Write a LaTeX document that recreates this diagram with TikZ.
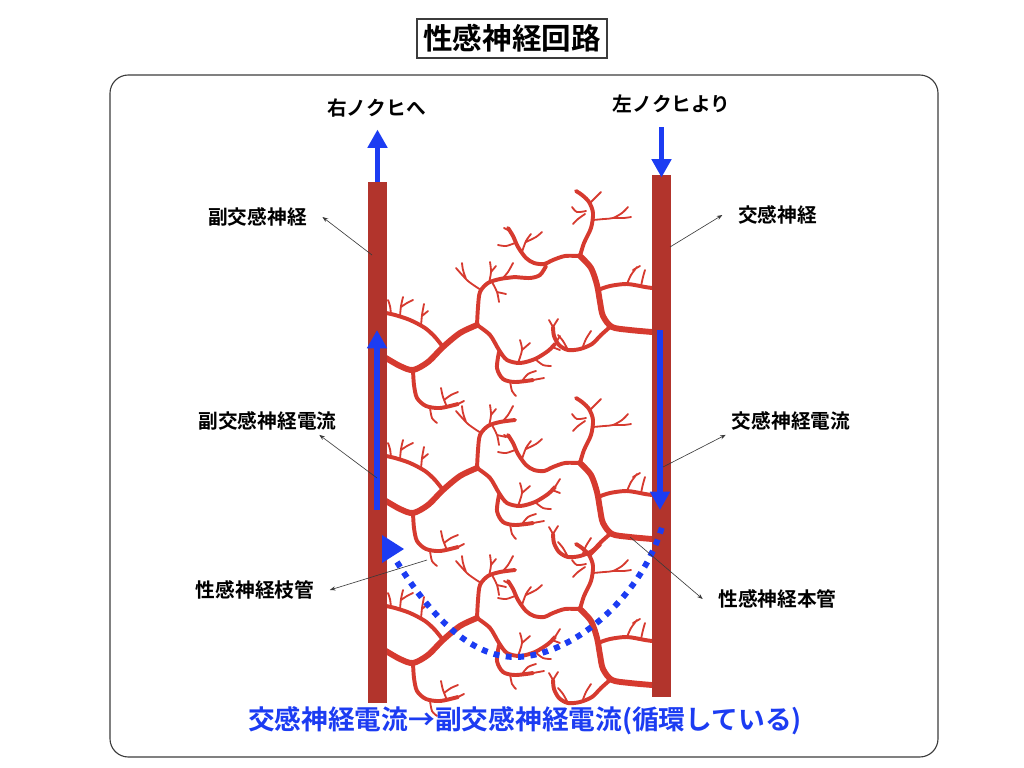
\documentclass[tikz,border=0pt]{standalone}
\usepackage{fontspec}
\usepackage{tikz}
\usetikzlibrary{arrows.meta, positioning, calc}
\newfontfamily\jpfont{Noto Sans CJK JP}[BoldFont={Noto Sans CJK JP Bold}]
\definecolor{nervebar}{HTML}{B2342C}
\definecolor{vesselred}{HTML}{D63A2F}
\definecolor{flowblue}{HTML}{1C3CF2}
\definecolor{leadergray}{HTML}{3A3A3A}
\definecolor{framegray}{HTML}{3C3C3C}

\tikzset{
  vessel/.style={draw=vesselred, line width=4.2pt, line cap=round, line join=round},
  subvessel/.style={vessel, line width=2.8pt},
  twig/.style={vessel, line width=1.3pt},
  nervebox/.style={fill=nervebar, minimum width=0.475cm, inner sep=0pt},
  flowarrow/.style={draw=flowblue, line width=3.6pt, -{Triangle[length=13pt, width=13.5pt]}},
  leader/.style={draw=leadergray, line width=0.45pt, -{Stealth[length=4pt, width=3pt]}},
  callout/.style={font=\jpfont\bfseries\fontsize{14}{14}\selectfont, inner xsep=11pt, inner ysep=3pt},
}

\begin{document}
\begin{tikzpicture}[x=0.025cm, y=-0.025cm]
  \useasboundingbox (0,0) rectangle (1024,768);

  % Title and frame
  \node[draw=framegray, line width=0.8pt, minimum width=4.75cm, minimum height=0.975cm,
        font=\jpfont\bfseries\fontsize{21}{21}\selectfont] (title) at (512,38.5) {性感神経回路};
  \draw[framegray, line width=0.8pt, rounded corners=13pt] (110,75) rectangle (938,757);

  % Branch vessels from the left nerve
  \foreach \dy in {0,143,293} {
    \begin{scope}[shift={(0,\dy)}]
      \draw[vessel] plot[smooth] coordinates {(386,358) (400,366) (413,370) (428,362) (443,347) (460,333) (477,325)};
      \draw[subvessel] plot[smooth] coordinates {(477,325) (490,335) (499,350) (507,360) (520,363) (535,359) (548,351) (555,344)}
                       plot[smooth] coordinates {(477,325) (478,307) (480,292) (488,283) (500,279) (515,277)}
                       plot[smooth] coordinates {(443,347) (435,337) (425,328) (410,320) (395,315) (386,313)}
                       plot[smooth] coordinates {(413,370) (414,385) (417,398) (426,406) (440,408) (458,404)}
                       plot[smooth] coordinates {(499,352) (497,368) (503,379) (515,382) (533,380)};
      \draw[twig] plot[smooth] coordinates {(400,316) (401,306) (403,297)}
                  plot[smooth] coordinates {(401,307) (407,303) (413,300)}
                  plot[smooth] coordinates {(391,314) (390,306) (388,300)}
                  plot[smooth] coordinates {(421,326) (422,315) (424,304)}
                  plot[smooth] coordinates {(422,316) (428,311)}
                  plot[smooth] coordinates {(481,290) (468,281) (456,268)}
                  plot[smooth] coordinates {(466,279) (463,270) (462,263)}
                  plot[smooth] coordinates {(489,283) (491,272) (490,262)}
                  plot[smooth] coordinates {(491,272) (496,266)}
                  plot[smooth] coordinates {(502,279) (508,272) (513,263)}
                  plot[smooth] coordinates {(492,282) (497,292) (499,302)}
                  plot[smooth] coordinates {(497,292) (506,294)}
                  plot[smooth] coordinates {(518,363) (522,350) (520,340)}
                  plot[smooth] coordinates {(522,350) (530,343)}
                  plot[smooth] coordinates {(535,359) (543,365) (551,366)}
                  plot[smooth] coordinates {(555,344) (560,336)}
                  plot[smooth] coordinates {(552,347) (560,350)}
                  plot[smooth] coordinates {(510,381) (512,391) (516,396)}
                  plot[smooth] coordinates {(522,381) (528,374) (536,371)}
                  plot[smooth] coordinates {(533,380) (544,378)}
                  plot[smooth] coordinates {(430,408) (432,418) (437,423)}
                  plot[smooth] coordinates {(447,407) (443,397) (441,388)}
                  plot[smooth] coordinates {(444,400) (451,395) (458,392)}
                  plot[smooth] coordinates {(458,404) (464,401)};
    \end{scope}
  }

  % Branch vessels from the right nerve
  \foreach \dy in {0,207,353} {
    \begin{scope}[shift={(0,\dy)}]
      \draw[vessel] plot[smooth] coordinates {(652,332) (630,330) (612,327) (603,316) (600,302) (597,285) (591,268) (580,256)};
      \draw[subvessel] plot[smooth] coordinates {(580,256) (565,256) (553,260) (544,264) (534,263) (526,258) (518,247) (513,236) (508,228)}
                       plot[smooth] coordinates {(580,256) (584,243) (591,228) (593,213) (589,202) (582,195) (576,191)}
                       plot[smooth] coordinates {(598,290) (610,286) (627,284) (645,287) (652,288)}
                       plot[smooth] coordinates {(610,327) (601,335) (592,344) (580,349) (568,350) (559,345) (554,336) (553,327)};
      \draw[twig] plot[smooth] coordinates {(593,220) (604,219) (613,218) (622,213) (628,207)}
                  plot[smooth] coordinates {(613,218) (624,218) (631,217)}
                  plot[smooth] coordinates {(590,203) (596,197) (601,192)}
                  plot[smooth] coordinates {(586,211) (577,212) (572,207)}
                  plot[smooth] coordinates {(585,214) (578,219) (573,224)}
                  plot[smooth] coordinates {(627,284) (631,275) (637,267)}
                  plot[smooth] coordinates {(633,270) (640,266)}
                  plot[smooth] coordinates {(641,286) (643,277) (645,270)}
                  plot[smooth] coordinates {(522,252) (526,241) (531,234)}
                  plot[smooth] coordinates {(526,242) (536,237) (542,232)}
                  plot[smooth] coordinates {(515,243) (506,246) (498,245)}
                  plot[smooth] coordinates {(510,231) (504,228)}
                  plot[smooth] coordinates {(582,349) (586,339) (591,331)}
                  plot[smooth] coordinates {(568,350) (563,341) (558,335)}
                  plot[smooth] coordinates {(553,327) (549,320)}
                  plot[smooth] coordinates {(553,327) (558,319)};
    \end{scope}
  }
  % Link between the top branches
  \draw[subvessel] plot[smooth] coordinates {(515,277) (530,278) (540,275) (546,266)};

  % Nerve bars
  \node[nervebox, minimum height=13.025cm] (psbar) at (377.5,442.5) {};
  \node[nervebox, minimum height=13.05cm] (sbar) at (661.5,436) {};

  % Outflow and inflow
  \node[callout] (outlbl) at (376.5,108) {右ノクヒへ};
  \node[callout] (inlbl) at (671.5,104) {左ノクヒより};
  \draw[flowarrow, shorten >=5.5pt] (psbar.north) -- (psbar.north |- outlbl.south);
  \draw[flowarrow, shorten <=7pt, shorten >=-2pt] (sbar.north |- inlbl.south) -- (sbar.north);

  % Currents along the nerves
  \coordinate (psflowtail) at (377,510);
  \coordinate (psflowhead) at (377,330);
  \coordinate (sflowtail) at (660,330);
  \coordinate (sflowhead) at (660,510);
  \draw[flowarrow] (psflowtail) -- (psflowhead);
  \draw[flowarrow] (sflowtail) -- (sflowhead);

  % Circulation loop
  \coordinate (loopstart) at (397,562);
  \coordinate (loopmid) at (515,657);
  \coordinate (loopend) at (662,527);
  \fill[flowblue] (382,535) -- (404,549) -- (382,563) -- cycle;
  \draw[flowblue, line width=4.2pt, dash pattern=on 4.2pt off 4.6pt]
    (loopstart) .. controls (430,615) and (470,657) .. (loopmid)
                .. controls (570,657) and (640,600) .. (loopend);

  % Callouts
  \node[callout] (psnervelbl) at (257.5,217) {副交感神経};
  \node[callout] (snervelbl) at (777.5,215) {交感神経};
  \node[callout] (pscurrentlbl) at (267.5,421) {副交感神経電流};
  \node[callout] (scurrentlbl) at (791,421) {交感神経電流};
  \node[callout] (branchlbl) at (255,590) {性感神経枝管};
  \node[callout] (trunklbl) at (777.5,599) {性感神経本管};

  \coordinate (psnervept) at (372,255);
  \coordinate (snervept) at (670,247);
  \coordinate (pscurrentpt) at (377,478);
  \coordinate (scurrentpt) at (663,467);
  \coordinate (branchpt) at (427,560);
  \coordinate (trunkpt) at (630,537);
  \draw[leader] (psnervept) -- (psnervelbl.east);
  \draw[leader] (snervept) -- (snervelbl.west);
  \draw[leader] (pscurrentpt) -- (pscurrentlbl.-15);
  \draw[leader] (scurrentpt) -- (scurrentlbl.192);
  \draw[leader] (branchpt) -- (branchlbl.east);
  \draw[leader] (trunkpt) -- (trunklbl.west);

  % Summary line
  \node[flowblue, font=\jpfont\bfseries\fontsize{19}{19}\selectfont] (summary) at (525,721)
    {交感神経電流→副交感神経電流(循環している)};
\end{tikzpicture}
\end{document}
